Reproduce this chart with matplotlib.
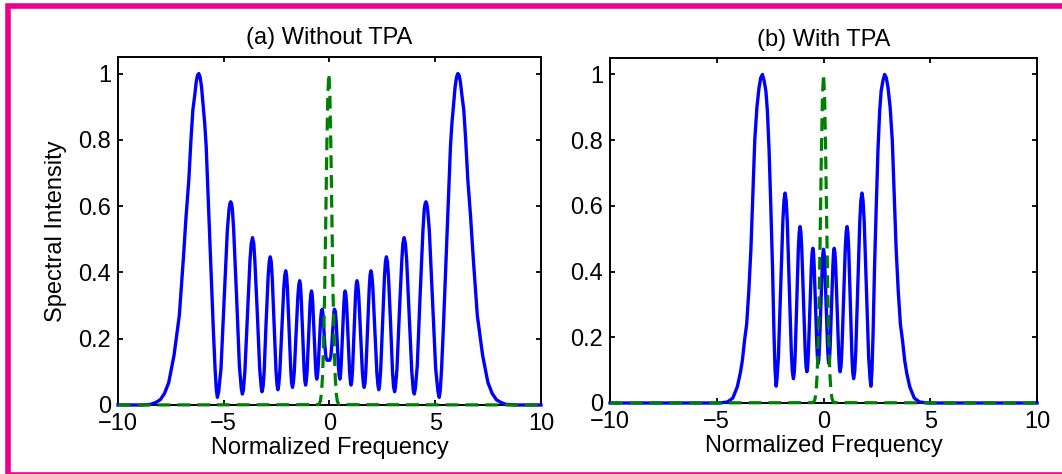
"""
Spectra of the output pulse, without and with two-photon absorption (TPA).
"""
import matplotlib
matplotlib.use("Agg")
import matplotlib.pyplot as plt
from matplotlib.patches import Rectangle

# ---- data ------------------------------------------------------------------
# (a) without TPA, blue solid curve
freq_a = [
    -10, -8.9, -8.45, -8.2, -8.0, -7.8, -7.6, -7.35, -7.1, -6.9, -6.78, -6.65,
    -6.55, -6.46, -6.38, -6.3, -6.24, -6.18, -6.12, -6.05, -5.97, -5.9, -5.83,
    -5.73, -5.61, -5.5, -5.41, -5.35, -5.3, -5.24, -5.13, -4.98, -4.83, -4.75,
    -4.71, -4.67, -4.63, -4.59, -4.53, -4.39, -4.26, -4.17, -4.12, -4.07, -4.0,
    -3.88, -3.76, -3.7, -3.64, -3.58, -3.53, -3.41, -3.3, -3.23, -3.19, -3.14,
    -3.09, -3.0, -2.9, -2.85, -2.8, -2.755, -2.71, -2.62, -2.53, -2.48, -2.44,
    -2.4, -2.35, -2.255, -2.16, -2.115, -2.07, -2.03, -1.99, -1.91, -1.83,
    -1.79, -1.75, -1.71, -1.665, -1.58, -1.495, -1.45, -1.41, -1.375, -1.34,
    -1.27, -1.2, -1.165, -1.13, -1.095, -1.06, -0.99, -0.92, -0.885, -0.85,
    -0.82, -0.79, -0.725, -0.66, -0.63, -0.6, -0.57, -0.54, -0.48, -0.42,
    -0.38, -0.34, -0.31, -0.27, -0.22, -0.17, -0.12, -0.055,
    0.01, 0.06, 0.11, 0.16, 0.2, 0.23, 0.27, 0.31, 0.37, 0.43, 0.46, 0.49,
    0.52, 0.55, 0.615, 0.68, 0.71, 0.74, 0.775, 0.81, 0.88, 0.95, 0.985, 1.02,
    1.055, 1.09, 1.16, 1.23, 1.265, 1.3, 1.34, 1.385, 1.47, 1.555, 1.6, 1.64,
    1.68, 1.72, 1.8, 1.88, 1.92, 1.96, 2.005, 2.05, 2.145, 2.24, 2.29, 2.33,
    2.37, 2.42, 2.51, 2.6, 2.645, 2.69, 2.74, 2.79, 2.89, 2.98, 3.03, 3.08,
    3.12, 3.19, 3.3, 3.42, 3.47, 3.53, 3.59, 3.65, 3.77, 3.89, 3.96, 4.01,
    4.06, 4.15, 4.28, 4.42, 4.48, 4.52, 4.56, 4.6, 4.64, 4.72, 4.87, 5.02,
    5.13, 5.19, 5.24, 5.3, 5.39, 5.5, 5.62, 5.72, 5.79, 5.86, 5.94, 6.01,
    6.07, 6.13, 6.19, 6.27, 6.35, 6.44, 6.54, 6.67, 6.79, 6.99, 7.24, 7.49,
    7.69, 7.89, 8.09, 8.34, 8.79, 10,
]
spec_a = [
    0, 0, 0.002, 0.008, 0.016, 0.035, 0.068, 0.15, 0.27, 0.45, 0.57, 0.68,
    0.8, 0.89, 0.93, 0.975, 0.995, 1.0, 0.99, 0.96, 0.9, 0.85, 0.78,
    0.62, 0.42, 0.24, 0.11, 0.045, 0.023, 0.04, 0.11, 0.318, 0.527, 0.59,
    0.607, 0.613, 0.607, 0.59, 0.528, 0.323, 0.118, 0.05, 0.033, 0.045, 0.102,
    0.269, 0.436, 0.487, 0.505, 0.487, 0.437, 0.273, 0.108, 0.055, 0.04, 0.055,
    0.099, 0.244, 0.388, 0.432, 0.447, 0.432, 0.388, 0.246, 0.105, 0.06, 0.046,
    0.06, 0.098, 0.226, 0.353, 0.391, 0.405, 0.392, 0.353, 0.229, 0.104,
    0.066, 0.053, 0.066, 0.1, 0.214, 0.328, 0.363, 0.375, 0.363, 0.329,
    0.218, 0.106, 0.073, 0.06, 0.073, 0.101, 0.202, 0.303, 0.333, 0.344,
    0.334, 0.305, 0.211, 0.117, 0.088, 0.078, 0.088, 0.109, 0.184, 0.258,
    0.284, 0.289, 0.275, 0.235, 0.18, 0.145, 0.135, 0.135,
    0.135, 0.145, 0.18, 0.235, 0.275, 0.289, 0.284, 0.258, 0.184, 0.109, 0.088, 0.078,
    0.088, 0.117, 0.211, 0.305, 0.334, 0.344, 0.333, 0.303, 0.202, 0.101, 0.073, 0.06,
    0.073, 0.106, 0.218, 0.329, 0.363, 0.375, 0.363, 0.328, 0.214, 0.1, 0.066, 0.053,
    0.066, 0.104, 0.229, 0.353, 0.392, 0.405, 0.391, 0.353, 0.226, 0.098, 0.06, 0.046,
    0.06, 0.105, 0.246, 0.388, 0.432, 0.447, 0.432, 0.388, 0.244, 0.099, 0.055, 0.04,
    0.055, 0.108, 0.273, 0.437, 0.487, 0.505, 0.487, 0.436, 0.269, 0.102, 0.045, 0.033,
    0.05, 0.118, 0.323, 0.528, 0.59, 0.607, 0.613, 0.607, 0.59, 0.527, 0.318, 0.11,
    0.04, 0.023, 0.045, 0.11, 0.24, 0.42, 0.62, 0.78, 0.85, 0.9, 0.96, 0.99,
    1.0, 0.995, 0.975, 0.93, 0.89, 0.8, 0.68, 0.57, 0.45, 0.27, 0.15, 0.068,
    0.035, 0.016, 0.008, 0.002, 0, 0,
]

# (b) with TPA, blue solid curve
freq_b = [
    -10, -4.9, -4.5, -4.25, -4.04, -3.9, -3.8, -3.7, -3.6, -3.5, -3.4, -3.3,
    -3.22, -3.12, -3.02, -2.94, -2.86, -2.78, -2.7, -2.63, -2.55, -2.47, -2.39,
    -2.32, -2.27, -2.22, -2.18, -2.115, -2.01, -1.905, -1.85, -1.8, -1.75,
    -1.7, -1.605, -1.51, -1.46, -1.41, -1.37, -1.33, -1.255, -1.18, -1.14,
    -1.1, -1.06, -1.02, -0.94, -0.86, -0.82, -0.78, -0.745, -0.71, -0.64,
    -0.57, -0.535, -0.5, -0.47, -0.44, -0.375, -0.31, -0.28, -0.25, -0.22,
    -0.19, -0.125, -0.06, -0.03, 0,
    0.03, 0.06, 0.125, 0.19, 0.22, 0.25, 0.28, 0.31, 0.375, 0.44, 0.47, 0.5,
    0.535, 0.57, 0.64, 0.71, 0.745, 0.78, 0.82, 0.86, 0.94, 1.02, 1.06, 1.1,
    1.14, 1.18, 1.255, 1.33, 1.37, 1.41, 1.46, 1.51, 1.605, 1.7, 1.75, 1.8,
    1.85, 1.905, 2.01, 2.115, 2.18, 2.22, 2.27, 2.32, 2.39, 2.47, 2.55, 2.63,
    2.7, 2.78, 2.86, 2.94, 3.02, 3.12, 3.22, 3.3, 3.4, 3.5, 3.6, 3.7, 3.8,
    3.9, 4.04, 4.25, 4.5, 4.9, 10,
]
spec_b = [
    0, 0, 0.003, 0.015, 0.049, 0.09, 0.13, 0.19, 0.24, 0.34, 0.47, 0.65,
    0.8, 0.9, 0.96, 0.99, 1.0, 0.98, 0.95, 0.89, 0.77, 0.6, 0.415,
    0.21, 0.1, 0.051, 0.073, 0.137, 0.345, 0.553, 0.617, 0.639, 0.617,
    0.556, 0.357, 0.157, 0.095, 0.074, 0.092, 0.142, 0.306, 0.469, 0.519,
    0.537, 0.52, 0.472, 0.316, 0.16, 0.112, 0.095, 0.108, 0.15, 0.283,
    0.416, 0.457, 0.471, 0.458, 0.42, 0.296, 0.171, 0.133, 0.12, 0.133,
    0.171, 0.294, 0.417, 0.455, 0.468,
    0.455, 0.417, 0.294, 0.171, 0.133, 0.12, 0.133, 0.171, 0.296, 0.42, 0.458, 0.471,
    0.457, 0.416, 0.283, 0.15, 0.108, 0.095, 0.112, 0.16, 0.316, 0.472, 0.52, 0.537,
    0.519, 0.469, 0.306, 0.142, 0.092, 0.074, 0.095, 0.157, 0.357, 0.556, 0.617, 0.639,
    0.617, 0.553, 0.345, 0.137, 0.073, 0.051, 0.1, 0.21, 0.415, 0.6, 0.77, 0.89,
    0.95, 0.98, 1.0, 0.99, 0.96, 0.9, 0.8, 0.65, 0.47, 0.34, 0.24, 0.19, 0.13,
    0.09, 0.049, 0.015, 0.003, 0, 0,
]

# input spectrum, green dashed curve (same in both panels)
freq_in_a = [-10, -0.53, -0.48, -0.43, -0.38, -0.33, -0.28, -0.23, -0.18, -0.13,
             -0.08, -0.03, 0.02, 0.07, 0.12, 0.17, 0.22, 0.27, 0.32, 0.37, 0.42,
             0.47, 10]
freq_in_b = [-10, -0.5, -0.45, -0.4, -0.35, -0.3, -0.25, -0.2, -0.15, -0.1,
             -0.05, 0, 0.05, 0.1, 0.15, 0.2, 0.25, 0.3, 0.35, 0.4, 0.45,
             0.5, 10]
spec_in = [0, 0.001, 0.004, 0.012, 0.035, 0.085, 0.18, 0.334, 0.54, 0.76,
           0.934, 1.0, 0.934, 0.76, 0.54, 0.334, 0.18, 0.085, 0.035, 0.012,
           0.004, 0.001, 0]

titles = ["(a) Without TPA", "(b) With TPA"]
xticks = [-10, -5, 0, 5, 10]
yticks = [0, 0.2, 0.4, 0.6, 0.8, 1]
ytick_labels = ["0", "0.2", "0.4", "0.6", "0.8", "1"]

# ---- figure ----------------------------------------------------------------
plt.rcParams["font.family"] = ["Liberation Sans", "DejaVu Sans"]
plt.rcParams["font.size"] = 17

fig = plt.figure(figsize=(10.62, 4.74), dpi=100)
ax1 = fig.add_axes([0.1111, 0.1456, 0.3983, 0.7342])
ax2 = fig.add_axes([0.5744, 0.1498, 0.4021, 0.7278])

blue = (0, 0, 1)
green = (0, 0.5, 0)

for ax, fx, fy, gx, title in [
    (ax1, freq_a, spec_a, freq_in_a, titles[0]),
    (ax2, freq_b, spec_b, freq_in_b, titles[1]),
]:
    ax.plot(fx, fy, color=blue, lw=2.4, zorder=3, clip_on=False)
    ax.plot(gx, spec_in, color=green, lw=2.3, dashes=(4, 2.2), zorder=4,
            clip_on=False)
    ax.set_xlim(-10, 10)
    ax.set_ylim(0, 1.05)
    ax.set_xticks(xticks)
    ax.set_yticks(yticks)
    ax.set_yticklabels(ytick_labels)
    ax.tick_params(direction="in", top=True, right=True, length=3.4,
                   width=1.3, pad=5)
    ax.tick_params(axis="x", pad=6)
    for s in ax.spines.values():
        s.set_linewidth(1.4)
    ax.set_title(title, pad=9, fontsize=17)
    ax.set_xlabel("Normalized Frequency", labelpad=1)

ax1.set_ylabel("Spectral Intensity", labelpad=8)

# magenta frame round the figure
frame = Rectangle((0.008, -0.0015), 0.997, 0.9888, transform=fig.transFigure,
                  fill=False, edgecolor="#EC008C", lw=4, clip_on=False)
fig.add_artist(frame)

fig.savefig("out.png", dpi=100)
